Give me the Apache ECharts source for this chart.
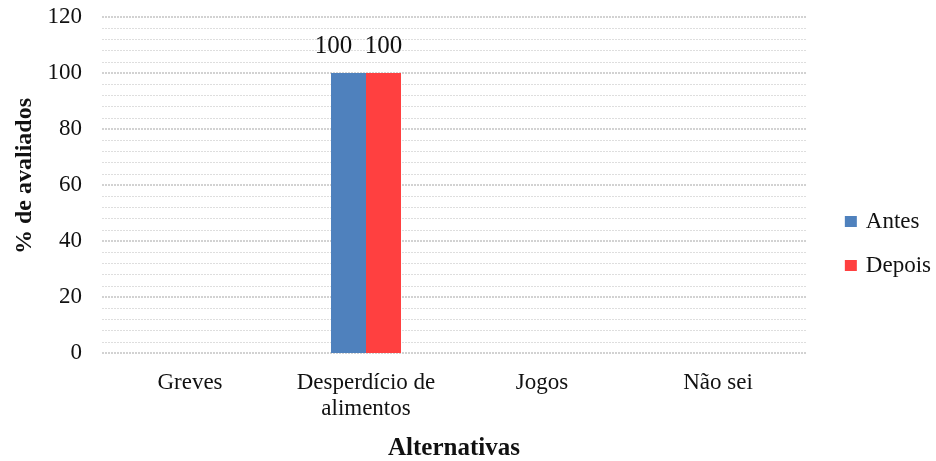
<!DOCTYPE html>
<html>
<head>
<meta charset="utf-8">
<script src="https://cdn.jsdelivr.net/npm/echarts@6/dist/echarts.min.js"></script>
<style>
  html, body { margin: 0; padding: 0; background: #fff; }
  #chart { width: 936px; height: 461px; }
</style>
</head>
<body>
<div id="chart"></div>
<script>
const categories = ['Greves', 'Desperdício de\nalimentos', 'Jogos', 'Não sei'];
const antes = [0, 100, 0, 0];
const depois = [0, 100, 0, 0];
const yTicks = { min: 0, max: 120, interval: 20 };

const serif = '"Liberation Serif", "Times New Roman", serif';

const chart = echarts.init(document.getElementById('chart'), null, { renderer: 'canvas' });

// Value labels on the bars; zero values are left unlabelled.
function valueLabel(dx) {
  return {
    show: true,
    position: 'top',
    distance: 14,
    offset: [dx, 0],
    fontFamily: serif,
    fontSize: 25,
    color: '#111',
    formatter: p => (p.value === 0 ? '' : String(p.value))
  };
}

chart.setOption({
  animation: false,
  textStyle: { fontFamily: serif },
  grid: { left: 102, right: 130, top: 17, bottom: 108, containLabel: false, outerBoundsMode: 'none' },
  legend: {
    orient: 'vertical',
    right: 0,
    top: 205,
    itemWidth: 12,
    itemHeight: 11,
    itemGap: 21,
    icon: 'rect',
    textStyle: { fontFamily: serif, fontSize: 23, color: '#111', padding: [0, 0, 0, 4] },
    data: ['Antes', 'Depois']
  },
  xAxis: {
    type: 'category',
    data: categories,
    name: 'Alternativas',
    nameLocation: 'middle',
    nameGap: 83,
    nameTextStyle: { fontFamily: serif, fontSize: 25, fontWeight: 'bold', color: '#111' },
    axisLine: { show: false },
    axisTick: { show: false },
    axisLabel: { interval: 0, fontFamily: serif, fontSize: 23, color: '#111', margin: 17, lineHeight: 26 }
  },
  yAxis: {
    type: 'value',
    min: yTicks.min,
    max: yTicks.max,
    interval: yTicks.interval,
    name: '% de avaliados',
    nameLocation: 'middle',
    nameGap: 64,
    nameTextStyle: { fontFamily: serif, fontSize: 24, fontWeight: 'bold', color: '#111', padding: [0, 0, 0, 18] },
    axisLine: { show: false },
    axisTick: { show: false },
    axisLabel: { fontFamily: serif, fontSize: 23, color: '#111', margin: 20 },
    splitLine: { show: true, lineStyle: { color: '#c4c4c4', width: 1.5, type: [2, 1] } },
    minorTick: { show: false, splitNumber: 5 },
    minorSplitLine: { show: true, lineStyle: { color: '#dedede', width: 1, type: [2, 1] } }
  },
  series: [
    {
      name: 'Antes',
      type: 'bar',
      data: antes,
      barWidth: 35,
      barGap: '0%',
      itemStyle: { color: '#4f81bd' },
      label: valueLabel(-15)
    },
    {
      name: 'Depois',
      type: 'bar',
      data: depois,
      barWidth: 35,
      barGap: '0%',
      itemStyle: { color: '#ff4040' },
      label: valueLabel(0)
    }
  ]
});
</script>
</body>
</html>
